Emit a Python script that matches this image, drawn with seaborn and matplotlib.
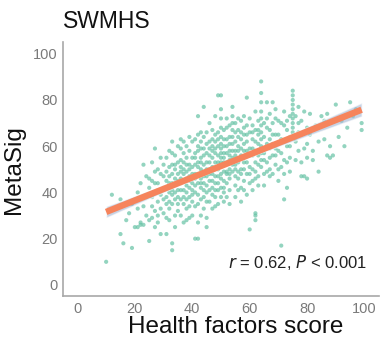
import matplotlib
matplotlib.use("Agg")
import matplotlib.pyplot as plt
import seaborn as sns
import pandas as pd
from matplotlib.collections import PolyCollection

# ---- data (approximate) ----
health_score = [
    10, 12, 15, 15, 16, 19, 18, 20, 17, 19,
    21, 22, 22, 23, 21, 22, 23, 24, 24, 25, 23, 24, 25, 21, 25,
    26, 27, 26, 27, 28, 28, 29, 26, 27, 28, 29, 26, 27, 28, 29, 30, 30, 25, 27, 28, 29, 30, 26, 28, 29, 30, 27, 30,
    31, 33, 33, 32, 33, 34, 31, 32, 33, 34, 35, 31, 32, 33, 34, 35, 31, 32, 33, 34, 35, 31, 32, 33, 34, 35, 31, 32, 33, 34, 35, 31, 32, 34, 35, 33, 31, 32, 34, 35, 33, 34, 35, 32,
    36, 36, 37, 37, 38, 38, 39, 39, 40, 36, 37, 38, 39, 40, 36, 37, 38, 39, 40, 36, 37, 38, 39, 40, 36, 37, 38, 39, 40, 36, 37, 38, 39, 40, 36, 37, 38, 39, 40, 37, 38, 39, 40, 36, 38, 40, 39, 37, 36, 40,
    41, 42, 42, 43, 44, 41, 42, 43, 44, 45, 41, 42, 43, 44, 45, 41, 42, 43, 44, 45, 41, 42, 43, 44, 45, 41, 42, 43, 44, 45, 41, 42, 43, 44, 45, 41, 42, 43, 44, 45, 41, 43, 44, 45, 42, 43, 44, 45, 41, 42, 43, 45, 44, 42,
    45, 46, 47, 48, 49, 50, 46, 47, 48, 49, 50, 46, 47, 48, 49, 50, 46, 47, 48, 49, 50, 46, 47, 48, 49, 50, 46, 47, 48, 49, 50, 46, 47, 48, 49, 50, 46, 47, 48, 49, 50, 46, 47, 48, 49, 50, 47, 48, 49, 50, 50, 50, 50, 50, 50, 46, 48, 49, 47, 48,
    51, 52, 53, 54, 54, 54, 54, 54, 54, 54, 54, 54, 54, 51, 52, 53, 55, 51, 52, 53, 55, 51, 52, 53, 55, 51, 52, 53, 55, 51, 52, 53, 55, 51, 52, 53, 55, 51, 52, 53, 55, 51, 52, 53, 55, 51, 53, 55, 52, 51, 53, 55,
    56, 57, 58, 59, 59, 56, 57, 58, 59, 60, 56, 57, 58, 59, 60, 56, 57, 58, 59, 60, 56, 57, 58, 59, 60, 56, 57, 58, 59, 60, 56, 57, 58, 59, 60, 57, 58, 60, 56, 59, 58, 57, 60, 56,
    61, 62, 62, 62, 63, 64, 64, 64, 64, 64, 64, 64, 64, 64, 64, 64, 64, 61, 62, 63, 65, 61, 62, 63, 65, 61, 62, 63, 65, 61, 62, 63, 65, 61, 62, 63, 65, 61, 62, 63, 65, 61, 62, 63, 65, 63,
    66, 67, 68, 69, 70, 66, 67, 68, 69, 70, 66, 67, 68, 69, 70, 66, 67, 68, 69, 70, 66, 67, 68, 69, 70, 66, 67, 68, 70, 69, 67,
    71, 72, 73, 72, 71, 72, 73, 74, 75, 75, 75, 75, 75, 75, 75, 75, 75, 75, 75, 71, 72, 73, 74, 71, 72, 73, 74, 71, 73, 74, 72, 74,
    76, 77, 78, 79, 80, 76, 77, 78, 79, 80, 76, 77, 78, 79, 80, 78, 77, 80,
    81, 82, 82, 84, 86, 87, 87, 88, 90, 89, 83, 85, 81, 84, 86, 88,
    91, 92, 94, 96, 99, 99, 97, 93, 95,
]
metasig = [
    10, 39, 37, 22, 18, 16, 31, 25, 28, 35,
    25, 26, 27, 26, 40, 44, 34, 47, 30, 19, 52, 38, 42, 33, 28,
    53, 59, 45, 25, 36, 41, 48, 34, 40, 30, 22, 38, 44, 50, 33, 42, 37, 46, 32, 27, 55, 47, 29, 44, 39, 31, 49, 52,
    22, 18, 15, 58, 62, 50, 45, 40, 35, 43, 48, 38, 47, 52, 30, 38, 55, 33, 44, 56, 41, 29, 51, 39, 46, 53, 42, 36, 48, 25, 45, 49, 44, 37, 32, 57, 35, 28, 40, 60, 41, 52, 35, 42,
    59, 44, 38, 50, 46, 55, 42, 34, 48, 30, 62, 40, 52, 36, 49, 45, 33, 58, 44, 54, 41, 49, 47, 55, 37, 27, 60, 38, 41, 46, 53, 43, 29, 51, 41, 48, 37, 45, 30, 57, 52, 50, 62, 63, 28, 39, 64, 35, 51, 46,
    20, 20, 73, 66, 77, 52, 48, 44, 56, 50, 40, 58, 37, 47, 61, 46, 53, 50, 41, 43, 57, 35, 62, 52, 36, 34, 44, 55, 33, 57, 48, 60, 46, 49, 47, 63, 39, 42, 59, 53, 43, 30, 64, 40, 51, 59, 44, 66, 55, 27, 53, 29, 38, 65,
    25, 70, 45, 73, 82, 82, 53, 58, 50, 47, 55, 41, 63, 44, 60, 48, 48, 51, 57, 53, 42, 59, 39, 62, 41, 64, 36, 55, 38, 66, 51, 45, 67, 53, 56, 38, 62, 48, 47, 44, 59, 50, 33, 65, 50, 46, 42, 59, 35, 68, 72, 76, 61, 57, 53, 56, 41, 63, 60, 34,
    60, 49, 56, 77, 73, 70, 67, 64, 61, 58, 55, 52, 49, 45, 63, 41, 66, 53, 57, 50, 47, 67, 44, 61, 58, 40, 53, 46, 52, 57, 68, 64, 43, 49, 38, 54, 62, 63, 60, 35, 56, 36, 48, 58, 38, 55, 69, 70, 72, 42, 48, 50,
    60, 50, 65, 81, 56, 46, 63, 53, 48, 59, 67, 42, 58, 69, 51, 53, 56, 45, 62, 66, 41, 71, 61, 53, 44, 58, 48, 68, 39, 56, 64, 59, 50, 58, 72, 36, 41, 24, 49, 65, 73, 66, 48, 72,
    63, 30, 31, 28, 57, 88, 83, 79, 75, 72, 69, 66, 63, 60, 57, 54, 51, 50, 67, 61, 54, 56, 46, 71, 64, 69, 58, 52, 48, 45, 62, 65, 59, 59, 53, 47, 70, 41, 75, 43, 43, 66, 49, 56, 57, 67,
    79, 67, 79, 59, 65, 61, 55, 70, 52, 58, 68, 63, 61, 72, 50, 53, 74, 48, 65, 71, 49, 59, 65, 56, 61, 72, 50, 56, 45, 76, 47,
    17, 37, 42, 54, 63, 69, 60, 73, 84, 82, 80, 78, 76, 74, 72, 70, 68, 66, 64, 57, 62, 67, 55, 51, 75, 53, 64, 70, 71, 49, 48, 60,
    62, 70, 53, 47, 46, 73, 58, 65, 75, 61, 54, 66, 71, 59, 68, 47, 77, 55,
    74, 58, 54, 49, 63, 74, 56, 60, 78, 56, 69, 73, 65, 62, 71, 55,
    64, 71, 68, 73, 70, 67, 76, 60, 79,
]
x_ticks = [0, 20, 40, 60, 80, 100]
y_ticks = [0, 20, 40, 60, 80, 100]
title = "SWMHS"
x_label = "Health factors score"
y_label = "MetaSig"

df = pd.DataFrame({"score": health_score, "metasig": metasig})

sns.set_style("white")
plt.rcParams["font.family"] = ["Liberation Sans", "DejaVu Sans"]

fig = plt.figure(figsize=(3.8, 3.4), dpi=100)
ax = fig.add_axes([0.166, 0.128, 0.831, 0.748])

sns.scatterplot(data=df, x="score", y="metasig", ax=ax, color="#66c2a5",
                s=9, alpha=0.7, edgecolor="none", linewidth=0)
sns.regplot(data=df, x="score", y="metasig", ax=ax, scatter=False,
            color="#f6845c", ci=95,
            line_kws={"color": "#f6845c", "lw": 4.6, "solid_capstyle": "butt"})
for coll in ax.collections:
    if isinstance(coll, PolyCollection):
        coll.set_facecolor("#a3b6d4")
        coll.set_alpha(0.6)

ax.set_xlim(-5, 105)
ax.set_ylim(-5, 105)
ax.set_xticks(x_ticks)
ax.set_yticks(y_ticks)
ax.tick_params(axis="both", labelsize=10.5, colors="#8a8a8a", length=2,
               width=0.8, labelcolor="#7a7a7a", pad=2)
for side in ["top", "right"]:
    ax.spines[side].set_visible(False)
for side in ["left", "bottom"]:
    ax.spines[side].set_color("#a8a8a8")
    ax.spines[side].set_linewidth(1.2)

ax.set_xlabel(x_label, fontsize=17.5, color="#111111", labelpad=2)
ax.xaxis.set_label_coords(0.547, -0.075)
ax.set_ylabel(y_label, fontsize=17.5, color="#111111", labelpad=6)
ax.set_title(title, fontsize=16.5, loc="left", color="#111111", pad=10, x=0.0)

ax.text(100.8, 9.5, r"$\it{r}$ = 0.62, $\it{P}$ < 0.001", ha="right", va="center",
        fontsize=12, color="#222222")

fig.savefig("out.png", dpi=100, facecolor="white")
